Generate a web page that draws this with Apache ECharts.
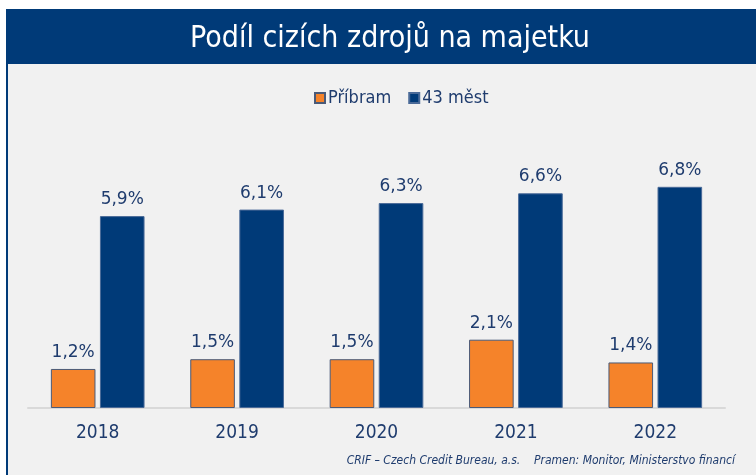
<!DOCTYPE html>
<html>
<head>
<meta charset="utf-8">
<script src="https://cdn.jsdelivr.net/npm/echarts@6/dist/echarts.min.js"></script>
<style>
  html, body { margin: 0; padding: 0; background: #fff; }
  #chart { width: 756px; height: 475px; }
</style>
</head>
<body>
<div id="chart"></div>
<script>
// data
const years = ['2018', '2019', '2020', '2021', '2022'];
const pribram = [1.2, 1.5, 1.5, 2.1, 1.4];
const mest43 = [5.9, 6.1, 6.3, 6.6, 6.8];
const seriesNames = ['Příbram', '43 měst'];

const NAVY = '#003a78';
const ORANGE = '#f5832a';
const TEXT = '#1f3c6e';
const FONT = 'DejaVu Sans Condensed, DejaVu Sans, sans-serif';
const WIDE = 'DejaVu Sans, sans-serif';

const fmt = (p) => String(p.value).replace('.', ',') + '%';

const chart = echarts.init(document.getElementById('chart'));
chart.setOption({
  animation: false,
  backgroundColor: '#ffffff',
  graphic: [
    {
      type: 'rect', z: -10,
      shape: { x: 7, y: 10, width: 760, height: 480 },
      style: { fill: '#f1f1f1', stroke: NAVY, lineWidth: 2 }
    },
    {
      type: 'rect', z: -9,
      shape: { x: 6, y: 10, width: 760, height: 54 },
      style: { fill: NAVY }
    },
    {
      type: 'text', right: 21, top: 455,
      style: {
        text: 'CRIF – Czech Credit Bureau, a.s.    Pramen: Monitor, Ministerstvo financí',
        fill: TEXT, font: 'italic 12px ' + FONT
      }
    }
  ],
  title: {
    text: 'Podíl cizích zdrojů na majetku',
    left: 385, top: 19, textAlign: 'center',
    textStyle: { color: '#ffffff', fontSize: 30, fontWeight: 'normal', fontFamily: FONT }
  },
  legend: {
    top: 84, left: 309,
    itemWidth: 10, itemHeight: 10, itemGap: 17,
    icon: 'rect',
    textStyle: { color: TEXT, fontSize: 18, fontFamily: FONT, padding: [0, 0, 0, -2] },
    data: seriesNames
  },
  grid: { left: 28, right: 31, top: 99, bottom: 67 },
  xAxis: {
    type: 'category',
    data: years,
    axisLine: { lineStyle: { color: '#d9d9d9', width: 2 } },
    axisTick: { show: false },
    axisLabel: { color: TEXT, fontSize: 19, fontFamily: FONT, margin: 16 }
  },
  yAxis: {
    type: 'value', min: 0, max: 9.5,
    show: false,
    splitLine: { show: false }
  },
  series: [
    {
      name: seriesNames[0], type: 'bar', data: pribram,
      barWidth: '32%', barGap: '10%',
      itemStyle: { color: ORANGE, borderColor: '#4a5a78', borderWidth: 1 },
      label: { show: true, position: 'top', distance: 8, formatter: fmt,
        color: TEXT, fontSize: 17, fontFamily: WIDE }
    },
    {
      name: seriesNames[1], type: 'bar', data: mest43,
      barWidth: '32%',
      itemStyle: { color: NAVY, borderColor: '#4a6a98', borderWidth: 1 },
      label: { show: true, position: 'top', distance: 8, formatter: fmt,
        color: TEXT, fontSize: 17, fontFamily: WIDE }
    }
  ]
});
</script>
</body>
</html>
